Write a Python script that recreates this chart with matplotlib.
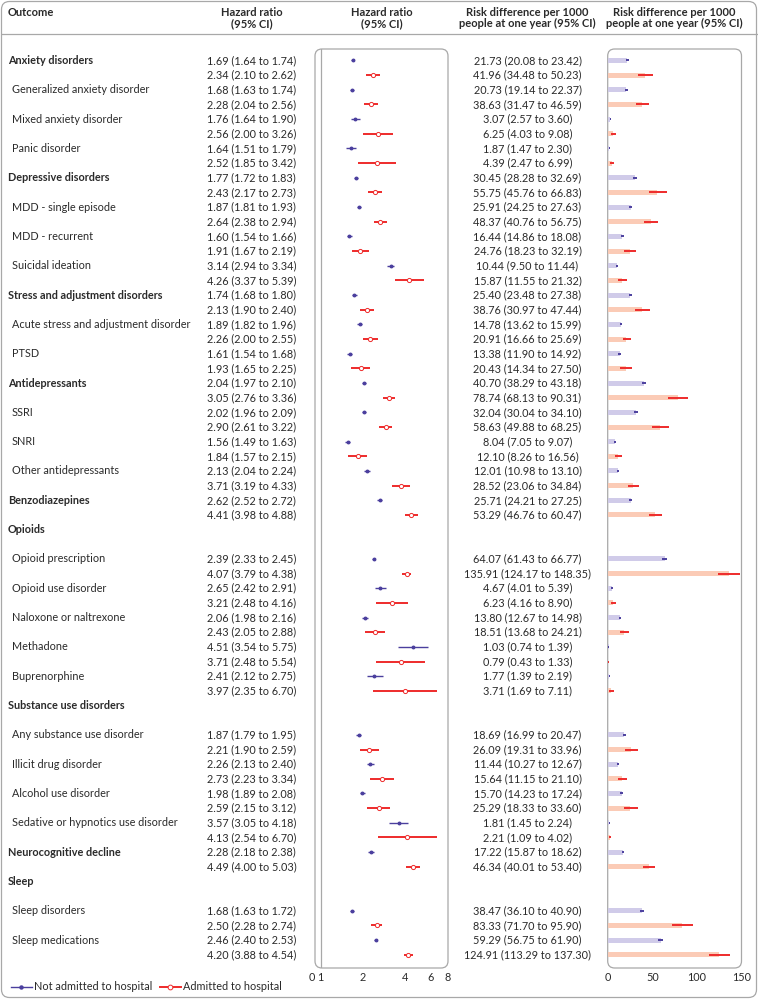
import numpy as np
import matplotlib.pyplot as plt
from matplotlib.patches import FancyBboxPatch
from matplotlib.lines import Line2D

plt.rcParams['font.family'] = ['Lato', 'DejaVu Sans']

# outcome labels and their type: 'main' (bold with values), 'sub', 'head' (bold, no values)
outcomes = ['Anxiety disorders', 'Generalized anxiety disorder', 'Mixed anxiety disorder', 'Panic disorder',
            'Depressive disorders', 'MDD - single episode', 'MDD - recurrent', 'Suicidal ideation',
            'Stress and adjustment disorders', 'Acute stress and adjustment disorder', 'PTSD',
            'Antidepressants', 'SSRI', 'SNRI', 'Other antidepressants', 'Benzodiazepines',
            'Opioids', 'Opioid prescription', 'Opioid use disorder', 'Naloxone or naltrexone',
            'Methadone', 'Buprenorphine',
            'Substance use disorders', 'Any substance use disorder', 'Illicit drug disorder',
            'Alcohol use disorder', 'Sedative or hypnotics use disorder', 'Neurocognitive decline',
            'Sleep', 'Sleep disorders', 'Sleep medications']
kind = ['main', 'sub', 'sub', 'sub',
        'main', 'sub', 'sub', 'sub',
        'main', 'sub', 'sub',
        'main', 'sub', 'sub', 'sub', 'main',
        'head', 'sub', 'sub', 'sub', 'sub', 'sub',
        'head', 'sub', 'sub', 'sub', 'sub', 'main',
        'head', 'sub', 'sub']

nan = np.nan
# hazard ratios, not admitted to hospital
hr_no = [1.69, 1.68, 1.76, 1.64, 1.77, 1.87, 1.60, 3.14, 1.74, 1.89, 1.61, 2.04, 2.02, 1.56, 2.13, 2.62,
         nan, 2.39, 2.65, 2.06, 4.51, 2.41, nan, 1.87, 2.26, 1.98, 3.57, 2.28, nan, 1.68, 2.46]
hr_no_lo = [1.64, 1.63, 1.64, 1.51, 1.72, 1.81, 1.54, 2.94, 1.68, 1.82, 1.54, 1.97, 1.96, 1.49, 2.04, 2.52,
            nan, 2.33, 2.42, 1.98, 3.54, 2.12, nan, 1.79, 2.13, 1.89, 3.05, 2.18, nan, 1.63, 2.40]
hr_no_hi = [1.74, 1.74, 1.90, 1.79, 1.83, 1.93, 1.66, 3.34, 1.80, 1.96, 1.68, 2.10, 2.09, 1.63, 2.24, 2.72,
            nan, 2.45, 2.91, 2.16, 5.75, 2.75, nan, 1.95, 2.40, 2.08, 4.18, 2.38, nan, 1.72, 2.53]
# hazard ratios, admitted to hospital
hr_ad = [2.34, 2.28, 2.56, 2.52, 2.43, 2.64, 1.91, 4.26, 2.13, 2.26, 1.93, 3.05, 2.90, 1.84, 3.71, 4.41,
         nan, 4.07, 3.21, 2.43, 3.71, 3.97, nan, 2.21, 2.73, 2.59, 4.13, 4.49, nan, 2.50, 4.20]
hr_ad_lo = [2.10, 2.04, 2.00, 1.85, 2.17, 2.38, 1.67, 3.37, 1.90, 2.00, 1.65, 2.76, 2.61, 1.57, 3.19, 3.98,
            nan, 3.79, 2.48, 2.05, 2.48, 2.35, nan, 1.90, 2.23, 2.15, 2.54, 4.00, nan, 2.28, 3.88]
hr_ad_hi = [2.62, 2.56, 3.26, 3.42, 2.73, 2.94, 2.19, 5.39, 2.40, 2.55, 2.25, 3.36, 3.22, 2.15, 4.33, 4.88,
            nan, 4.38, 4.16, 2.88, 5.54, 6.70, nan, 2.59, 3.34, 3.12, 6.70, 5.03, nan, 2.74, 4.54]
# risk difference per 1000 at one year, not admitted
rd_no = [21.73, 20.73, 3.07, 1.87, 30.45, 25.91, 16.44, 10.44, 25.40, 14.78, 13.38, 40.70, 32.04, 8.04, 12.01, 25.71,
         nan, 64.07, 4.67, 13.80, 1.03, 1.77, nan, 18.69, 11.44, 15.70, 1.81, 17.22, nan, 38.47, 59.29]
rd_no_lo = [20.08, 19.14, 2.57, 1.47, 28.28, 24.25, 14.86, 9.50, 23.48, 13.62, 11.90, 38.29, 30.04, 7.05, 10.98, 24.21,
            nan, 61.43, 4.01, 12.67, 0.74, 1.39, nan, 16.99, 10.27, 14.23, 1.45, 15.87, nan, 36.10, 56.75]
rd_no_hi = [23.42, 22.37, 3.60, 2.30, 32.69, 27.63, 18.08, 11.44, 27.38, 15.99, 14.92, 43.18, 34.10, 9.07, 13.10, 27.25,
            nan, 66.77, 5.39, 14.98, 1.39, 2.19, nan, 20.47, 12.67, 17.24, 2.24, 18.62, nan, 40.90, 61.90]
# risk difference per 1000 at one year, admitted
rd_ad = [41.96, 38.63, 6.25, 4.39, 55.75, 48.37, 24.76, 15.87, 38.76, 20.91, 20.43, 78.74, 58.63, 12.10, 28.52, 53.29,
         nan, 135.91, 6.23, 18.51, 0.79, 3.71, nan, 26.09, 15.64, 25.29, 2.21, 46.34, nan, 83.33, 124.91]
rd_ad_lo = [34.48, 31.47, 4.03, 2.47, 45.76, 40.76, 18.23, 11.55, 30.97, 16.66, 14.34, 68.13, 49.88, 8.26, 23.06, 46.76,
            nan, 124.17, 4.16, 13.68, 0.43, 1.69, nan, 19.31, 11.15, 18.33, 1.09, 40.01, nan, 71.70, 113.29]
rd_ad_hi = [50.23, 46.59, 9.08, 6.99, 66.83, 56.75, 32.19, 21.32, 47.44, 25.69, 27.50, 90.31, 68.25, 16.56, 34.84, 60.47,
            nan, 148.35, 8.90, 24.21, 1.33, 7.11, nan, 33.96, 21.10, 33.60, 4.02, 53.40, nan, 95.90, 137.30]

hr_ticks = [1, 2, 4, 6, 8]
rd_ticks = [0, 50, 100, 150]

W, H = 758, 999
BLUE = '#4b3f9e'
RED = '#ee2b2b'
BLUE_L = '#d0cbe9'
RED_L = '#fbcbb6'
GREY = '#a8a8a8'
TXT = '#2a2a2a'
FS = 7.8

# row positions (pixels from top)
y0, step = 60.5, 14.66
ys = []
r = 0
for k in kind:
    ys.append(y0 + r * step)
    r += 2
ys = np.array(ys)
y_no = ys
y_ad = ys + step

fig = plt.figure(figsize=(W / 100, H / 100), dpi=100)
bg = fig.add_axes([0, 0, 1, 1])
bg.set_xlim(0, W)
bg.set_ylim(H, 0)
bg.axis('off')

# frames
bg.add_patch(FancyBboxPatch((1.5, 1.5), W - 3, H - 3, boxstyle='round,pad=0,rounding_size=8',
                            fc='none', ec=GREY, lw=0.9))
bg.plot([1.5, W - 1.5], [34, 34], color=GREY, lw=0.9)

top, bot = 49, 968
fx0, fx1 = 315, 448
rx0, rx1 = 607.7, 741.5
for x0, x1 in [(fx0, fx1), (rx0, rx1)]:
    bg.add_patch(FancyBboxPatch((x0, top), x1 - x0, bot - top, boxstyle='round,pad=0,rounding_size=7',
                                fc='none', ec=GREY, lw=0.9))

# headers
hfs = 8.0
bg.text(8, 12, 'Outcome', fontsize=hfs, fontweight='bold', color=TXT, va='center')
bg.text(251.5, 18, 'Hazard ratio\n(95% CI)', fontsize=hfs, fontweight='bold', color=TXT,
        ha='center', va='center', linespacing=1.05)
bg.text((fx0 + fx1) / 2, 18, 'Hazard ratio\n(95% CI)', fontsize=hfs, fontweight='bold', color=TXT,
        ha='center', va='center', linespacing=1.05)
bg.text(527.5, 18, 'Risk difference per 1000\npeople at one year (95% CI)', fontsize=hfs,
        fontweight='bold', color=TXT, ha='center', va='center', linespacing=1.05)
bg.text((rx0 + rx1) / 2, 18, 'Risk difference per 1000\npeople at one year (95% CI)', fontsize=hfs,
        fontweight='bold', color=TXT, ha='center', va='center', linespacing=1.05)

# text columns
for i, name in enumerate(outcomes):
    if kind[i] == 'sub':
        bg.text(12, ys[i], name, fontsize=FS, color=TXT, va='center')
    else:
        bg.text(8, ys[i], name, fontsize=FS, fontweight='bold', color=TXT, va='center')
    if kind[i] == 'head':
        continue
    bg.text(251.5, y_no[i], f'{hr_no[i]:.2f} ({hr_no_lo[i]:.2f} to {hr_no_hi[i]:.2f})',
            fontsize=FS, color=TXT, ha='center', va='center')
    bg.text(251.5, y_ad[i], f'{hr_ad[i]:.2f} ({hr_ad_lo[i]:.2f} to {hr_ad_hi[i]:.2f})',
            fontsize=FS, color=TXT, ha='center', va='center')
    bg.text(527.5, y_no[i], f'{rd_no[i]:.2f} ({rd_no_lo[i]:.2f} to {rd_no_hi[i]:.2f})',
            fontsize=FS, color=TXT, ha='center', va='center')
    bg.text(527.5, y_ad[i], f'{rd_ad[i]:.2f} ({rd_ad_lo[i]:.2f} to {rd_ad_hi[i]:.2f})',
            fontsize=FS, color=TXT, ha='center', va='center')

# forest plot of hazard ratios
fa = fig.add_axes([fx0 / W, 1 - bot / H, (fx1 - fx0) / W, (bot - top) / H])
fa.patch.set_alpha(0)
fa.set_xscale('log', base=2)
xmin = 2 ** (-(320.5 - fx0) / ((fx1 - 320.5) / 3))
fa.set_xlim(xmin, 8)
fa.set_ylim(bot, top)
for s in fa.spines.values():
    s.set_visible(False)
fa.axvline(1, color=GREY, lw=0.9)
fa.hlines(y_no, hr_no_lo, hr_no_hi, color=BLUE, lw=1.0)
fa.plot(hr_no, y_no, 'o', color=BLUE, ms=1.8, mec=BLUE)
fa.hlines(y_ad, hr_ad_lo, hr_ad_hi, color=RED, lw=1.4)
fa.plot(hr_ad, y_ad, 'o', color=RED, ms=3.0, mfc='white', mec=RED, mew=0.7)
fa.set_xticks([xmin] + hr_ticks)
fa.set_xticklabels(['0'] + [str(t) for t in hr_ticks])
fa.get_xticklabels()[0].set_ha('right')
fa.minorticks_off()
fa.set_yticks([])
fa.tick_params(axis='x', length=0, pad=3, labelsize=FS, labelcolor=TXT)

# risk difference bars
ra = fig.add_axes([rx0 / W, 1 - bot / H, (rx1 - rx0) / W, (bot - top) / H])
ra.patch.set_alpha(0)
ra.set_xlim(0, 150)
ra.set_ylim(bot, top)
for s in ra.spines.values():
    s.set_visible(False)
ra.barh(y_no, rd_no, height=5, color=BLUE_L)
ra.barh(y_ad, rd_ad, height=5, color=RED_L)
ra.hlines(y_no, rd_no_lo, rd_no_hi, color=BLUE, lw=1.4)
ra.hlines(y_ad, rd_ad_lo, rd_ad_hi, color=RED, lw=1.4)
ra.set_xticks(rd_ticks)
ra.set_yticks([])
ra.tick_params(axis='x', length=0, pad=3, labelsize=FS, labelcolor=TXT)

handles = [Line2D([], [], color=BLUE, lw=1.0, marker='o', ms=2.2),
           Line2D([], [], color=RED, lw=1.4, marker='o', ms=3.4, mfc='white', mew=0.7)]
fig.legend(handles, ['Not admitted to hospital', 'Admitted to hospital'], loc='center left',
           bbox_to_anchor=(11 / W, 1 - 987 / H), ncol=2, frameon=False, fontsize=FS,
           handlelength=1.9, handletextpad=0.25, columnspacing=0.7, borderpad=0, borderaxespad=0,
           labelcolor=TXT)

fig.savefig('out.png', dpi=100)
